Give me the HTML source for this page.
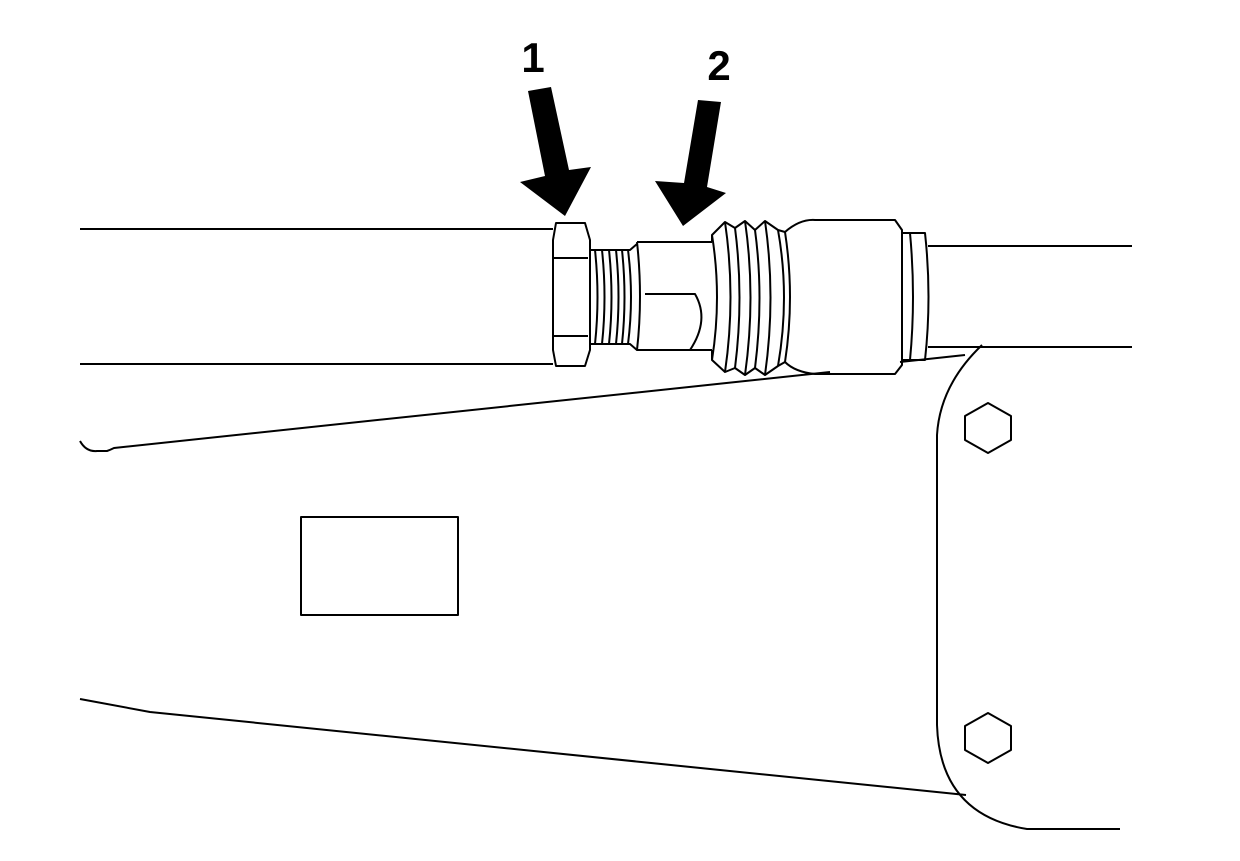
<!DOCTYPE html>
<html><head><style>html,body{margin:0;padding:0;background:#fff}svg{display:block}</style></head>
<body>
<svg width="1240" height="861" viewBox="0 0 1240 861" xmlns="http://www.w3.org/2000/svg">
<g fill="none" stroke="#000" stroke-width="2" stroke-linejoin="round">
<line x1="80" y1="229" x2="553" y2="229"/>
<line x1="80" y1="364" x2="553" y2="364"/>
<line x1="928" y1="246" x2="1132" y2="246"/>
<line x1="928" y1="347" x2="1132" y2="347"/>
<path d="M80 441 Q86 452 97 451 L107 451 Q110 450 114 448 L830 372"/>
<path d="M900 362 L965 355"/>
<path d="M80 699 L150 712 L966 795"/>
<path d="M982 345 Q940 385 937 435 L937 725 Q940 815 1027 829 L1120 829"/>
<polygon points="988,403 1011,416 1011,440 988,453 965,440 965,416"/>
<polygon points="988,713 1011,726 1011,750 988,763 965,750 965,726"/>
<rect x="301" y="517" width="157" height="98"/>
<path d="M556 223 L585 223 L590 240 L590 350 L585 366 L556 366 L553 350 L553 240 Z"/>
<line x1="554" y1="258" x2="588" y2="258"/>
<line x1="554" y1="336" x2="588" y2="336"/>
<path d="M590 250 L630 250 L637 244 M590 344 L630 344 L637 350"/>
<path d="M595 250 Q600 297 595 344 M602 250 Q607 297 602 344 M609 250 Q614 297 609 344 M616 250 Q621 297 616 344 M622 250 Q627 297 622 344 M628 250 Q634 297 628 344"/>
<path d="M637 242 L712 242 M637 242 Q643 297 637 350 L712 350"/>
<path d="M645 294 L695 294 Q710 320 690 350"/>
<path d="M712 242 L712 235 L725 222 L735 228 L745 221 L755 230 L765 221 L778 230 L785 232"/>
<path d="M712 350 L712 360 L725 372 L735 368 L745 375 L755 368 L765 375 L778 366 L785 362"/>
<path d="M712 235 Q722 297 712 360"/>
<path d="M725 222 Q736 297 725 372"/>
<path d="M735 228 Q744 297 735 368"/>
<path d="M745 221 Q756 297 745 375"/>
<path d="M755 230 Q764 297 755 368"/>
<path d="M765 221 Q776 297 765 375"/>
<path d="M778 230 Q790 297 778 366"/>
<path d="M785 232 Q800 219 815 220 L895 220 L902 230 L902 365 L895 374 L815 374 Q795 372 785 362"/>
<path d="M785 232 Q795 297 785 362"/>
<path d="M902 233 L925 233 Q932 297 925 360 L902 360"/>
<path d="M910 233 Q916 297 910 360"/>
</g>
<polygon points="528,91 551,87 569,170 591,167 565,216 520,182 545,176" fill="#000"/>
<polygon points="698,100 721,102 707,187 726,193 683,226 655,181 684,183" fill="#000"/>
<text x="533" y="72" font-family="Liberation Sans, sans-serif" font-weight="bold" font-size="42" text-anchor="middle">1</text>
<text x="719" y="80" font-family="Liberation Sans, sans-serif" font-weight="bold" font-size="42" text-anchor="middle">2</text>
</svg>
</body></html>
